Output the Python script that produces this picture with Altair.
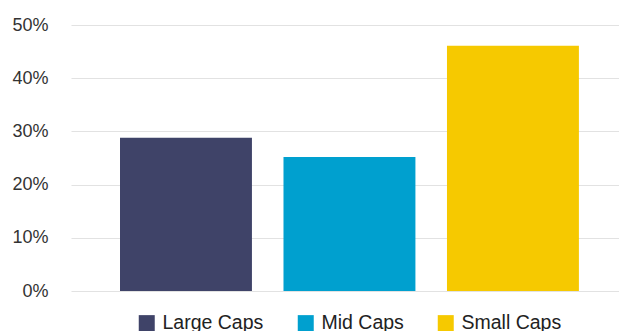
import altair as alt
import pandas as pd

categories = ["Large Caps", "Mid Caps", "Small Caps"]
values = [0.288, 0.252, 0.461]
colors = ["#3f4368", "#00a0cf", "#f6c900"]

df = pd.DataFrame({"cat": categories, "val": values})

chart = alt.Chart(df).mark_bar().encode(
    x=alt.X("cat:N", sort=categories, axis=None,
            scale=alt.Scale(paddingInner=0.193, paddingOuter=0.2725, align=0.55)),
    y=alt.Y("val:Q", scale=alt.Scale(domain=[0, 0.5], nice=False),
            axis=alt.Axis(format=".0%", values=[0, 0.1, 0.2, 0.3, 0.4, 0.5],
                          domain=False, ticks=False, labelPadding=23,
                          labelFontSize=18, labelColor="#333333",
                          labelFont="Liberation Sans",
                          gridColor="#e2e2e2", gridWidth=1.2, title=None)),
    color=alt.Color("cat:N", sort=categories,
                    scale=alt.Scale(domain=categories, range=colors),
                    legend=alt.Legend(title=None, orient="none", direction="horizontal",
                                      legendX=66, legendY=288,
                                      symbolType="square", symbolSize=256,
                                      symbolStrokeWidth=0, symbolOpacity=1,
                                      labelFontSize=19.5, labelColor="#222222",
                                      labelFont="Liberation Sans",
                                      labelOffset=6, columnPadding=32)),
).properties(
    width=548, height=266,
    padding={"left": 71, "top": 25, "right": 0, "bottom": 40},
    autosize=alt.AutoSizeParams(type="none"),
).configure_view(stroke=None)

chart.save("out.html", embed_options={"renderer": "svg", "actions": False})
